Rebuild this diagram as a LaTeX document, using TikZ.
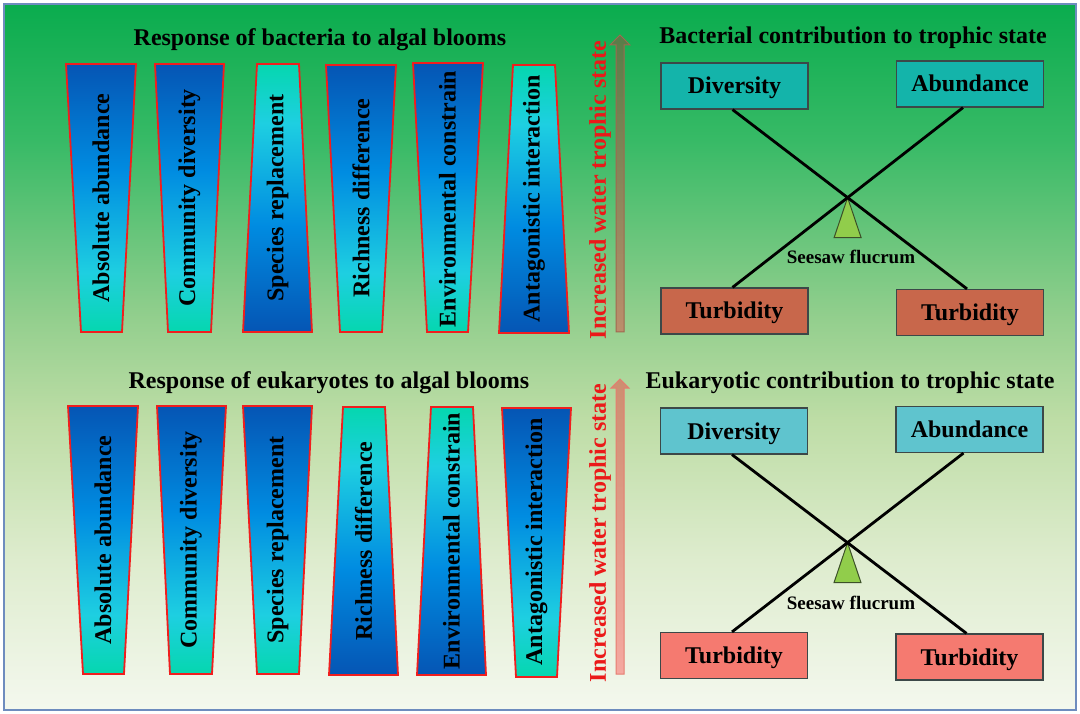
\documentclass[tikz,border=0pt]{standalone}
\usepackage{fontspec}
\setmainfont{Liberation Serif}
\usetikzlibrary{intersections}
\definecolor{bg0}{RGB}{10,172,78}
\definecolor{bg1}{RGB}{55,186,102}
\definecolor{bg2}{RGB}{148,207,142}
\definecolor{bg3}{RGB}{190,221,166}
\definecolor{bg4}{RGB}{222,236,206}
\definecolor{bg5}{RGB}{244,248,238}
\definecolor{frame}{RGB}{110,140,190}
\definecolor{tteal}{RGB}{5,215,175}
\definecolor{tcyan}{RGB}{30,207,225}
\definecolor{tblue}{RGB}{0,140,225}
\definecolor{tdark}{RGB}{5,85,180}
\definecolor{trapred}{RGB}{240,30,30}
\definecolor{txtred}{RGB}{235,25,25}
\definecolor{boxline}{RGB}{60,72,72}
\definecolor{divA}{RGB}{20,180,170}
\definecolor{turA}{RGB}{200,103,75}
\definecolor{divB}{RGB}{95,196,206}
\definecolor{turB}{RGB}{245,122,112}
\definecolor{trifill}{RGB}{145,205,75}
\definecolor{triline}{RGB}{60,80,40}
\definecolor{arAtop}{RGB}{88,125,72}
\definecolor{arAbot}{RGB}{188,142,108}
\definecolor{arAline}{RGB}{160,105,80}
\definecolor{arBtop}{RGB}{205,142,112}
\definecolor{arBbot}{RGB}{245,168,160}
\definecolor{arBline}{RGB}{230,125,112}
\pgfdeclareverticalshading{trapsh}{100bp}{color(0bp)=(tteal); color(25bp)=(tteal); color(36bp)=(tcyan); color(55bp)=(tblue); color(75bp)=(tdark); color(100bp)=(tdark)}
\pgfdeclareverticalshading{bgsh}{100bp}{color(0bp)=(bg5); color(25bp)=(bg5); color(35.6bp)=(bg4); color(45.5bp)=(bg3); color(52.6bp)=(bg2); color(65.4bp)=(bg1); color(75bp)=(bg0); color(100bp)=(bg0)}
\tikzset{
  bigfont/.style={font=\fontsize{24}{26}\selectfont\bfseries},
  title/.style={bigfont, text=black, inner sep=0pt},
  traptext/.style={bigfont, rotate=90, text=black, inner sep=0pt},
  trap/.style={draw=trapred, line width=1.8pt, shading=trapsh},
  traprev/.style={trap, shading angle=180},
  arrowtext/.style={bigfont, rotate=90, text=txtred, inner sep=0pt},
  cbox/.style={draw=boxline, line width=1.2pt, minimum width=147pt, minimum height=46pt, inner sep=0pt, text height=16pt, text depth=0pt, bigfont, text=black},
  seesaw/.style={line width=2.8pt, black},
  tri/.style={fill=trifill, draw=triline, line width=1pt},
  fulcrum/.style={font=\fontsize{19}{21}\selectfont\bfseries, text=black, inner sep=0pt}
}
\begin{document}
\begin{tikzpicture}[x=1pt,y=-1pt]
\useasboundingbox (0,0) rectangle (1080,714);
\fill[white] (0,0) rectangle (1080,714);
\shade[shading=bgsh] (4,4) rectangle (1076,710);
\draw[frame, line width=1.5pt] (4,4) rectangle (1076,710);

% titles
\node[title] (t1) at (320,40) {Response of bacteria to algal blooms};
\node[title] (t2) at (853,38) {Bacterial contribution to trophic state};
\node[title] (t3) at (329,383) {Response of eukaryotes to algal blooms};
\node[title] (t4) at (850,383) {Eukaryotic contribution to trophic state};

% top trapezoids
\shadedraw[trap] (66,64) -- (136,64) -- (122,332) -- (81,332) -- cycle;
\node[traptext] (b1) at (101,198) {Absolute abundance};
\shadedraw[trap] (155,64) -- (224,64) -- (211,332) -- (168,332) -- cycle;
\node[traptext] (b2) at (189.5,198) {Community diversity};
\shadedraw[traprev] (257,64) -- (299,64) -- (312,332) -- (243,332) -- cycle;
\node[traptext] (b3) at (277.5,198) {Species replacement};
\shadedraw[trap] (326,65) -- (396,65) -- (382,332) -- (340,332) -- cycle;
\node[traptext] (b4) at (361,198) {Richness difference};
\shadedraw[trap] (413,63) -- (483,63) -- (468,332) -- (427,332) -- cycle;
\node[traptext] (b5) at (447.5,199) {Environmental constrain};
\shadedraw[traprev] (513,65) -- (555,65) -- (569,333) -- (499,333) -- cycle;
\node[traptext] (b6) at (534,199) {Antagonistic interaction};

% bottom trapezoids
\shadedraw[trap] (68,406) -- (138,406) -- (124,674) -- (83,674) -- cycle;
\node[traptext] (e1) at (103,540) {Absolute abundance};
\shadedraw[trap] (157,406) -- (226,406) -- (212,674) -- (170,674) -- cycle;
\node[traptext] (e2) at (191,540) {Community diversity};
\shadedraw[trap] (243,406) -- (312,406) -- (299,674) -- (257,674) -- cycle;
\node[traptext] (e3) at (277.5,540) {Species replacement};
\shadedraw[traprev] (343,407) -- (385,407) -- (398,675) -- (329,675) -- cycle;
\node[traptext] (e4) at (363.5,541) {Richness difference};
\shadedraw[traprev] (431,407) -- (473,407) -- (486,675) -- (417,675) -- cycle;
\node[traptext] (e5) at (451.5,541) {Environmental constrain};
\shadedraw[trap] (502,408) -- (571,408) -- (557,677) -- (516,677) -- cycle;
\node[traptext] (e6) at (536.5,542) {Antagonistic interaction};

% arrows
\shadedraw[top color=arAtop, bottom color=arAbot, draw=arAline, line width=1pt]
  (616,332) -- (616,45) -- (610,45) -- (620,35) -- (630,45) -- (624,45) -- (624,332) -- cycle;
\node[arrowtext] (a1) at (600,190) {Increased water trophic state};
\shadedraw[top color=arBtop, bottom color=arBbot, draw=arBline, line width=1pt]
  (616,674) -- (616,388) -- (611,388) -- (620,379) -- (629,388) -- (624,388) -- (624,674) -- cycle;
\node[arrowtext] (a2) at (600,533) {Increased water trophic state};

% top seesaw
\node[cbox, fill=divA] (divT) at (734.5,86) {Diversity};
\node[cbox, fill=divA] (abT) at (970,84) {Abundance};
\node[cbox, fill=turA] (turLT) at (734.5,311) {Turbidity};
\node[cbox, fill=turA] (turRT) at (970,312.5) {Turbidity};
\path[name path=laT] ([xshift=-2pt]divT.south) -- ([xshift=-3pt]turRT.north);
\path[name path=lbT] ([xshift=-7pt]abT.south) -- ([xshift=-2pt]turLT.north);
\path[name intersections={of=laT and lbT, by=pivT}];
\filldraw[tri] (pivT) -- ++(-13.5,40) -- ++(27,0) -- cycle;
\draw[seesaw] ([xshift=-2pt]divT.south) -- ([xshift=-3pt]turRT.north);
\draw[seesaw] ([xshift=-7pt]abT.south) -- ([xshift=-2pt]turLT.north);
\node[fulcrum] (fT) at (851,257) {Seesaw flucrum};

% bottom seesaw
\node[cbox, fill=divB] (divB) at (734,431) {Diversity};
\node[cbox, fill=divB] (abB) at (969.5,429.5) {Abundance};
\node[cbox, fill=turB] (turLB) at (734,655.5) {Turbidity};
\node[cbox, fill=turB] (turRB) at (969.5,657) {Turbidity};
\path[name path=laB] ([xshift=-2pt]divB.south) -- ([xshift=-3pt]turRB.north);
\path[name path=lbB] ([xshift=-6pt]abB.south) -- ([xshift=-2pt]turLB.north);
\path[name intersections={of=laB and lbB, by=pivB}];
\filldraw[tri] (pivB) -- ++(-13.5,40) -- ++(27,0) -- cycle;
\draw[seesaw] ([xshift=-2pt]divB.south) -- ([xshift=-3pt]turRB.north);
\draw[seesaw] ([xshift=-6pt]abB.south) -- ([xshift=-2pt]turLB.north);
\node[fulcrum] (fB) at (851,603) {Seesaw flucrum};
\end{tikzpicture}
\end{document}
